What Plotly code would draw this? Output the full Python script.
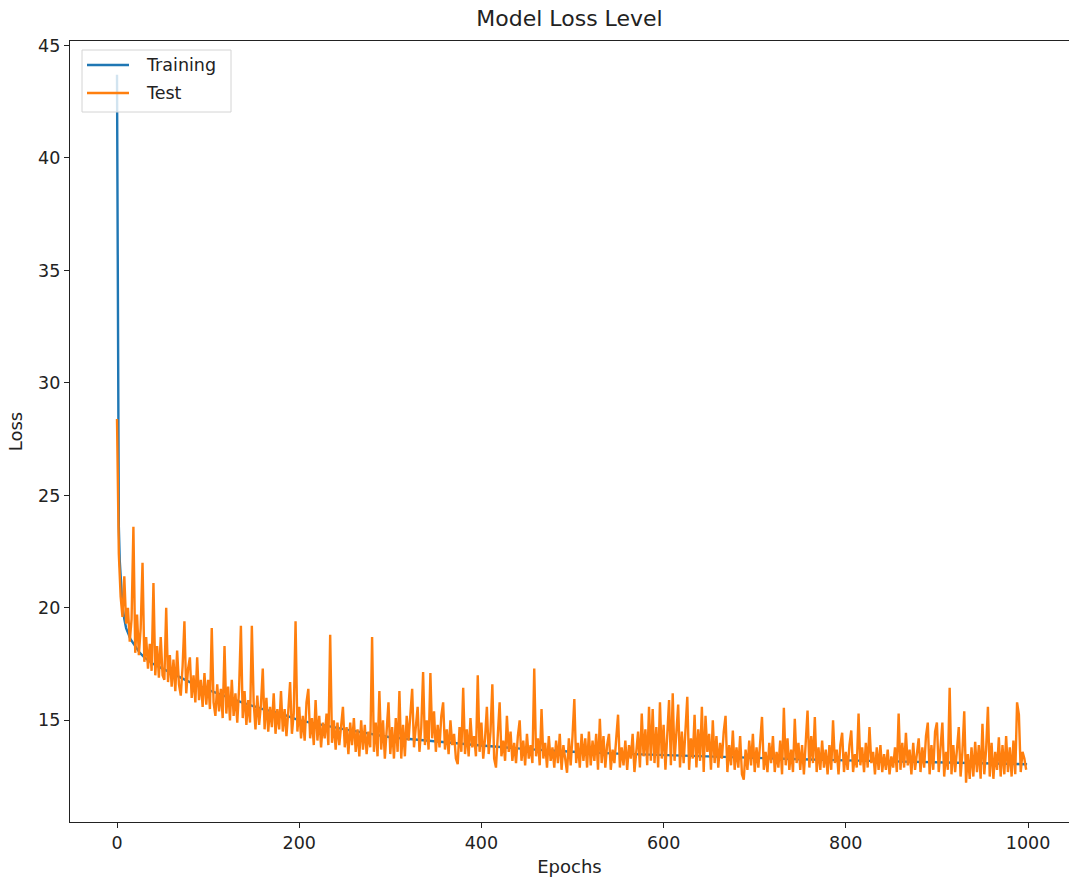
import plotly.graph_objects as go

# ---- data ----
train_epochs = [0, 1, 2, 3, 4, 5, 6, 8, 10, 15, 20, 25, 30, 40, 50, 60, 70, 80, 100, 120,
                140, 160, 180, 200, 250, 300, 350, 400, 450, 500, 550, 600, 650, 700, 750,
                800, 850, 900, 950, 999]
train_loss = [43.7, 27.0, 23.6, 22.1, 21.2, 20.6, 20.1, 19.5, 19.1, 18.6, 18.3, 18.0, 17.8,
              17.5, 17.3, 17.1, 16.9, 16.7, 16.35, 16.05, 15.75, 15.5, 15.3, 15.0, 14.6,
              14.25, 14.05, 13.88, 13.72, 13.6, 13.52, 13.45, 13.4, 13.33, 13.27, 13.22,
              13.18, 13.14, 13.1, 13.05]

test_epochs = list(range(0, 1000, 2))
test_loss = [
    28.4, 22.4, 20.5, 19.6, 21.4, 19.3, 20.0, 18.5, 19.5, 23.6,
    18.0, 19.7, 17.9, 19.1, 22.0, 17.6, 18.7, 17.3, 18.4, 17.2,
    21.1, 17.0, 18.3, 16.9, 18.7, 17.0, 16.8, 20.0, 16.7, 17.9,
    16.5, 17.7, 16.3, 18.1, 16.6, 16.1, 17.4, 19.4, 16.2, 17.3,
    17.8, 16.0, 17.0, 15.8, 17.8, 15.9, 16.8, 15.6, 17.1, 15.7,
    16.8, 15.5, 19.1, 15.8, 15.2, 16.6, 15.4, 16.4, 15.1, 18.3,
    15.3, 16.5, 15.0, 16.8, 15.2, 16.2, 14.9, 16.4, 19.2, 15.1,
    16.3, 14.8, 15.9, 14.9, 19.2, 15.8, 14.6, 16.1, 14.8, 15.7,
    17.3, 14.6, 16.0, 14.5, 15.6, 14.7, 16.2, 14.4, 15.5, 14.6,
    16.3, 14.5, 15.5, 14.3, 15.4, 16.7, 14.4, 15.3, 19.4, 14.5,
    15.6, 14.2, 15.2, 14.1, 15.8, 16.4, 14.2, 15.1, 13.9, 15.9,
    14.1, 15.2, 13.8, 14.9, 14.2, 15.3, 13.9, 18.8, 14.0, 15.0,
    13.7, 14.9, 13.9, 14.8, 15.6, 13.8, 14.7, 13.5, 14.9, 13.9,
    15.1, 13.6, 14.6, 13.4, 15.0, 13.7, 14.8, 13.5, 14.5, 13.8,
    18.7, 13.6, 14.9, 13.4, 16.3, 13.7, 15.0, 13.3, 14.6, 15.8,
    13.5, 14.7, 13.3, 15.1, 13.6, 16.3, 13.3, 14.8, 13.4, 15.2,
    14.1, 15.5, 16.4, 13.8, 14.9, 15.6, 13.6, 14.7, 17.15, 13.9,
    15.0, 13.7, 17.1, 14.2, 15.4, 13.6, 14.8, 13.8, 15.2, 15.8,
    13.7, 14.6, 13.5, 15.0, 13.9, 14.4, 13.3, 13.05, 14.7, 13.6,
    16.45, 13.5, 14.6, 13.4, 15.1, 13.8, 14.3, 13.4, 17.0, 13.6,
    14.9, 13.3, 14.2, 15.6, 13.5, 14.5, 16.6, 13.3, 12.9, 14.4,
    15.8, 13.4, 14.1, 13.2, 15.2, 13.6, 14.5, 13.2, 14.0, 13.1,
    14.3, 15.0, 13.2, 14.1, 13.0, 14.4, 13.3, 13.9, 13.1, 17.3,
    13.4, 14.2, 13.0, 15.5, 13.3, 14.0, 12.9, 14.3, 13.2, 13.8,
    12.9, 14.1, 13.1, 14.4, 12.8, 13.9, 13.2, 12.67, 14.2, 13.0,
    14.3, 15.95, 13.1, 14.0, 12.9, 14.4, 13.2, 14.2, 12.9, 14.5,
    13.0, 14.1, 13.2, 14.4, 12.8, 15.07, 13.1, 14.3, 12.9, 13.9,
    14.4, 12.8, 13.7, 13.1, 14.2, 15.25, 12.9, 13.8, 13.0, 14.1,
    12.8, 13.9, 13.3, 14.4, 12.7, 13.6, 14.5, 12.9, 15.3, 13.4,
    14.6, 13.0, 15.6, 13.2, 15.5, 13.1, 14.7, 12.9, 15.8, 13.3,
    14.8, 12.8, 14.3, 15.9, 13.0, 16.2, 13.2, 14.6, 15.7, 12.9,
    14.5, 13.1, 14.9, 16.05, 12.8, 14.2, 13.3, 15.25, 12.9, 14.6,
    13.2, 15.6, 12.7, 15.2, 13.6, 14.4, 12.8, 15.0, 13.1, 14.3,
    12.9, 14.0, 13.3, 14.5, 15.2, 12.7, 13.9, 13.0, 14.55, 12.8,
    13.8, 12.9, 14.3, 12.6, 12.36, 13.7, 12.8, 14.1, 13.0, 14.4,
    12.7, 13.8, 12.9, 14.2, 15.15, 12.8, 13.6, 12.7, 14.0, 13.1,
    14.3, 12.7, 13.6, 12.9, 14.1, 12.6, 15.56, 13.0, 14.2, 12.8,
    13.7, 12.7, 15.07, 13.1, 14.0, 12.8, 13.9, 12.6, 14.2, 15.43,
    12.9, 14.3, 13.1, 15.15, 12.7, 13.8, 12.8, 14.1, 12.9, 13.7,
    12.6, 13.9, 12.8, 15.0, 13.1, 13.7, 12.6, 13.9, 14.45, 12.7,
    13.6, 12.8, 13.9, 14.55, 12.7, 13.5, 12.9, 15.3, 13.0, 13.8,
    12.7, 14.0, 12.9, 14.7, 13.1, 13.6, 12.6, 13.8, 12.8, 13.9,
    12.7, 13.5, 12.8, 13.7, 12.6, 13.4, 12.9, 13.8, 12.7, 15.3,
    12.8, 14.0, 12.9, 14.45, 13.0, 13.7, 12.6, 14.0, 12.8, 13.6,
    14.2, 12.7, 13.8, 12.9, 14.3, 14.9, 12.6, 13.9, 12.8, 14.5,
    14.9, 12.7, 13.8, 14.9, 12.5, 13.6, 12.8, 16.45, 12.6, 13.9,
    12.7, 13.8, 14.7, 12.5, 13.6, 15.4, 12.23, 13.5, 12.4, 13.8,
    12.5, 14.05, 12.7, 13.9, 12.4, 14.85, 12.6, 13.7, 15.6, 12.5,
    14.0, 12.4, 13.6, 12.8, 14.25, 12.5, 13.9, 12.6, 14.3, 12.7,
    13.8, 12.5, 14.1, 12.6, 15.8, 15.25, 12.7, 13.6, 13.3, 12.8,
]

x_ticks = [0, 200, 400, 600, 800, 1000]
y_ticks = [15, 20, 25, 30, 35, 40, 45]
series_names = ["Training", "Test"]
series_colors = ["#1f77b4", "#ff7f0e"]

FONT = "DejaVu Sans"
W, H = 1069, 877
M_L, M_R, M_T, M_B = 70, 0, 41, 55
PW, PH = W - M_L - M_R, H - M_T - M_B


def px_x(px):
    return (px - M_L) / PW


def px_y(py):
    return 1 - (py - M_T) / PH


fig = go.Figure()
fig.add_trace(go.Scatter(x=train_epochs, y=train_loss, mode="lines", name=series_names[0],
                         line=dict(color=series_colors[0], width=2.4)))
fig.add_trace(go.Scatter(x=test_epochs, y=test_loss, mode="lines", name=series_names[1],
                         line=dict(color=series_colors[1], width=2.4)))

axis_common = dict(showgrid=False, zeroline=False, showline=True, linecolor="#222",
                   linewidth=1.2, ticks="outside", ticklen=5, tickcolor="#222",
                   tickfont=dict(family=FONT, size=17.5, color="#222"))

# legend drawn as shapes + text (matplotlib-style upper-left legend)
shapes = [dict(type="rect", xref="paper", yref="paper", layer="above",
               x0=px_x(82), x1=px_x(231), y0=px_y(112), y1=px_y(50),
               fillcolor="rgba(255,255,255,0.8)", line=dict(color="#d4d4d4", width=1))]
annotations = []
for i, (name, col) in enumerate(zip(series_names, series_colors)):
    yc = 65 + 28 * i
    shapes.append(dict(type="line", xref="paper", yref="paper", layer="above",
                       x0=px_x(87), x1=px_x(129), y0=px_y(yc), y1=px_y(yc),
                       line=dict(color=col, width=2.4)))
    annotations.append(dict(text=name, xref="paper", yref="paper", x=px_x(144),
                            y=px_y(yc), xanchor="left", yanchor="middle", showarrow=False,
                            font=dict(family=FONT, size=17.5, color="#222")))

fig.update_layout(
    width=W, height=H,
    margin=dict(l=M_L, r=M_R, t=M_T, b=M_B),
    paper_bgcolor="white", plot_bgcolor="white",
    font=dict(family=FONT, color="#222"),
    showlegend=False,
    title=dict(text="Model Loss Level", x=0.5, xref="paper", y=1 - 18 / H,
               yanchor="middle", font=dict(family=FONT, size=22, color="#222")),
    xaxis=dict(range=[-51.6, 1045], tickvals=x_ticks, mirror=True,
               title=dict(text="Epochs", font=dict(family=FONT, size=18), standoff=8),
               **axis_common),
    yaxis=dict(range=[10.48, 45.2], tickvals=y_ticks, mirror=False,
               title=dict(text="Loss", font=dict(family=FONT, size=18), standoff=10),
               **axis_common),
    shapes=shapes,
    annotations=annotations,
)

fig.write_html("out.html")
